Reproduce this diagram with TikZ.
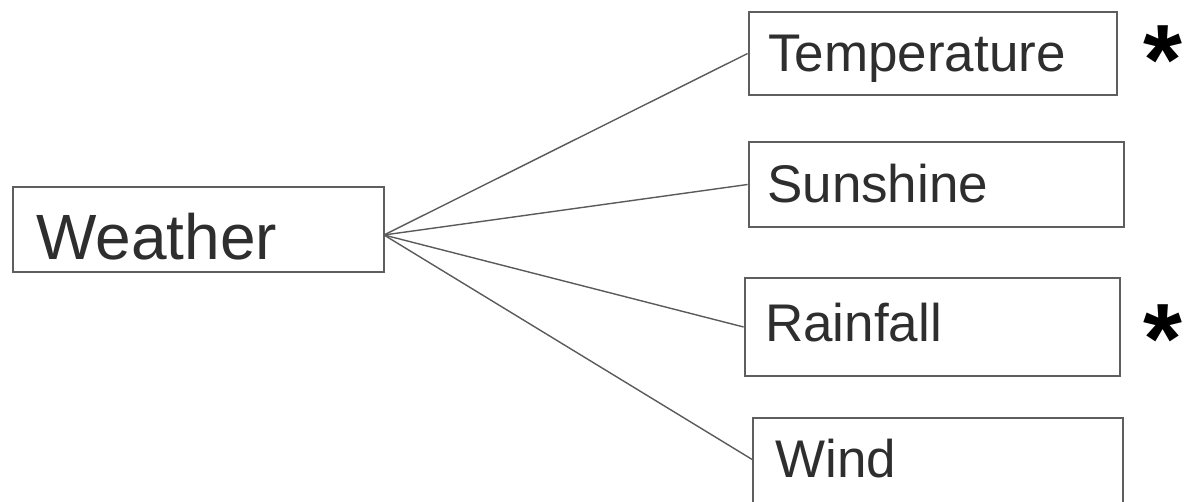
\documentclass[tikz,border=0pt]{standalone}
\usepackage{fontspec}
\setmainfont{Liberation Sans}
\begin{document}
\begin{tikzpicture}[x=1pt,y=-1pt,
  box/.style={draw=boxgray,line width=2.8pt,rectangle,inner sep=0pt,fill=white},
  lbl/.style={inner sep=0pt,anchor=base west,text=txtgray},
  link/.style={draw=linkgray,line width=1.4pt},
  starsign/.style={inner sep=0pt,font=\fontsize{100}{100}\bfseries\selectfont}]
\definecolor{boxgray}{HTML}{5E5E5E}
\definecolor{linkgray}{HTML}{5A5A5A}
\definecolor{txtgray}{HTML}{2E2E2E}
\useasboundingbox (0,0) rectangle (1187,502);
\clip (0,0) rectangle (1187,502);

% connectors from the hub on the right side of the root box
\coordinate (hub) at (384,235);
\coordinate (windend) at (753,460);

% boxes
\node[box,minimum width=371pt,minimum height=85pt] (weather) at (198.5,229.5) {};
\node[box,minimum width=368pt,minimum height=83pt] (temp) at (933,53.5) {};
\node[box,minimum width=375pt,minimum height=85pt] (sun) at (936.5,184.5) {};
\node[box,minimum width=375pt,minimum height=98pt] (rain) at (932.5,327) {};
\node[box,minimum width=370pt,minimum height=100pt] (wind) at (938,468) {};

\draw[link] (hub) -- (temp.west);
\draw[link] (hub) -- (sun.west);
\draw[link] (hub) -- (rain.west);
\draw[link] (hub) -- (windend);

% labels
\node[lbl,font=\fontsize{64}{64}\selectfont] (tweather) at (36,260) {Weather};
\node[lbl,font=\fontsize{53}{53}\selectfont] (ttemp) at (768,72) {Temperature};
\node[lbl,font=\fontsize{53}{53}\selectfont] (tsun) at (767,203) {Sunshine};
\node[lbl,font=\fontsize{53}{53}\selectfont] (train) at (765,342) {Rainfall};
\node[lbl,font=\fontsize{53}{53}\selectfont] (twind) at (775,478) {Wind};

% asterisks beside the boxes
\node[starsign] (startemp) at (1163,60) {*};
\node[starsign] (starrain) at (1163,339) {*};
\end{tikzpicture}
\end{document}
